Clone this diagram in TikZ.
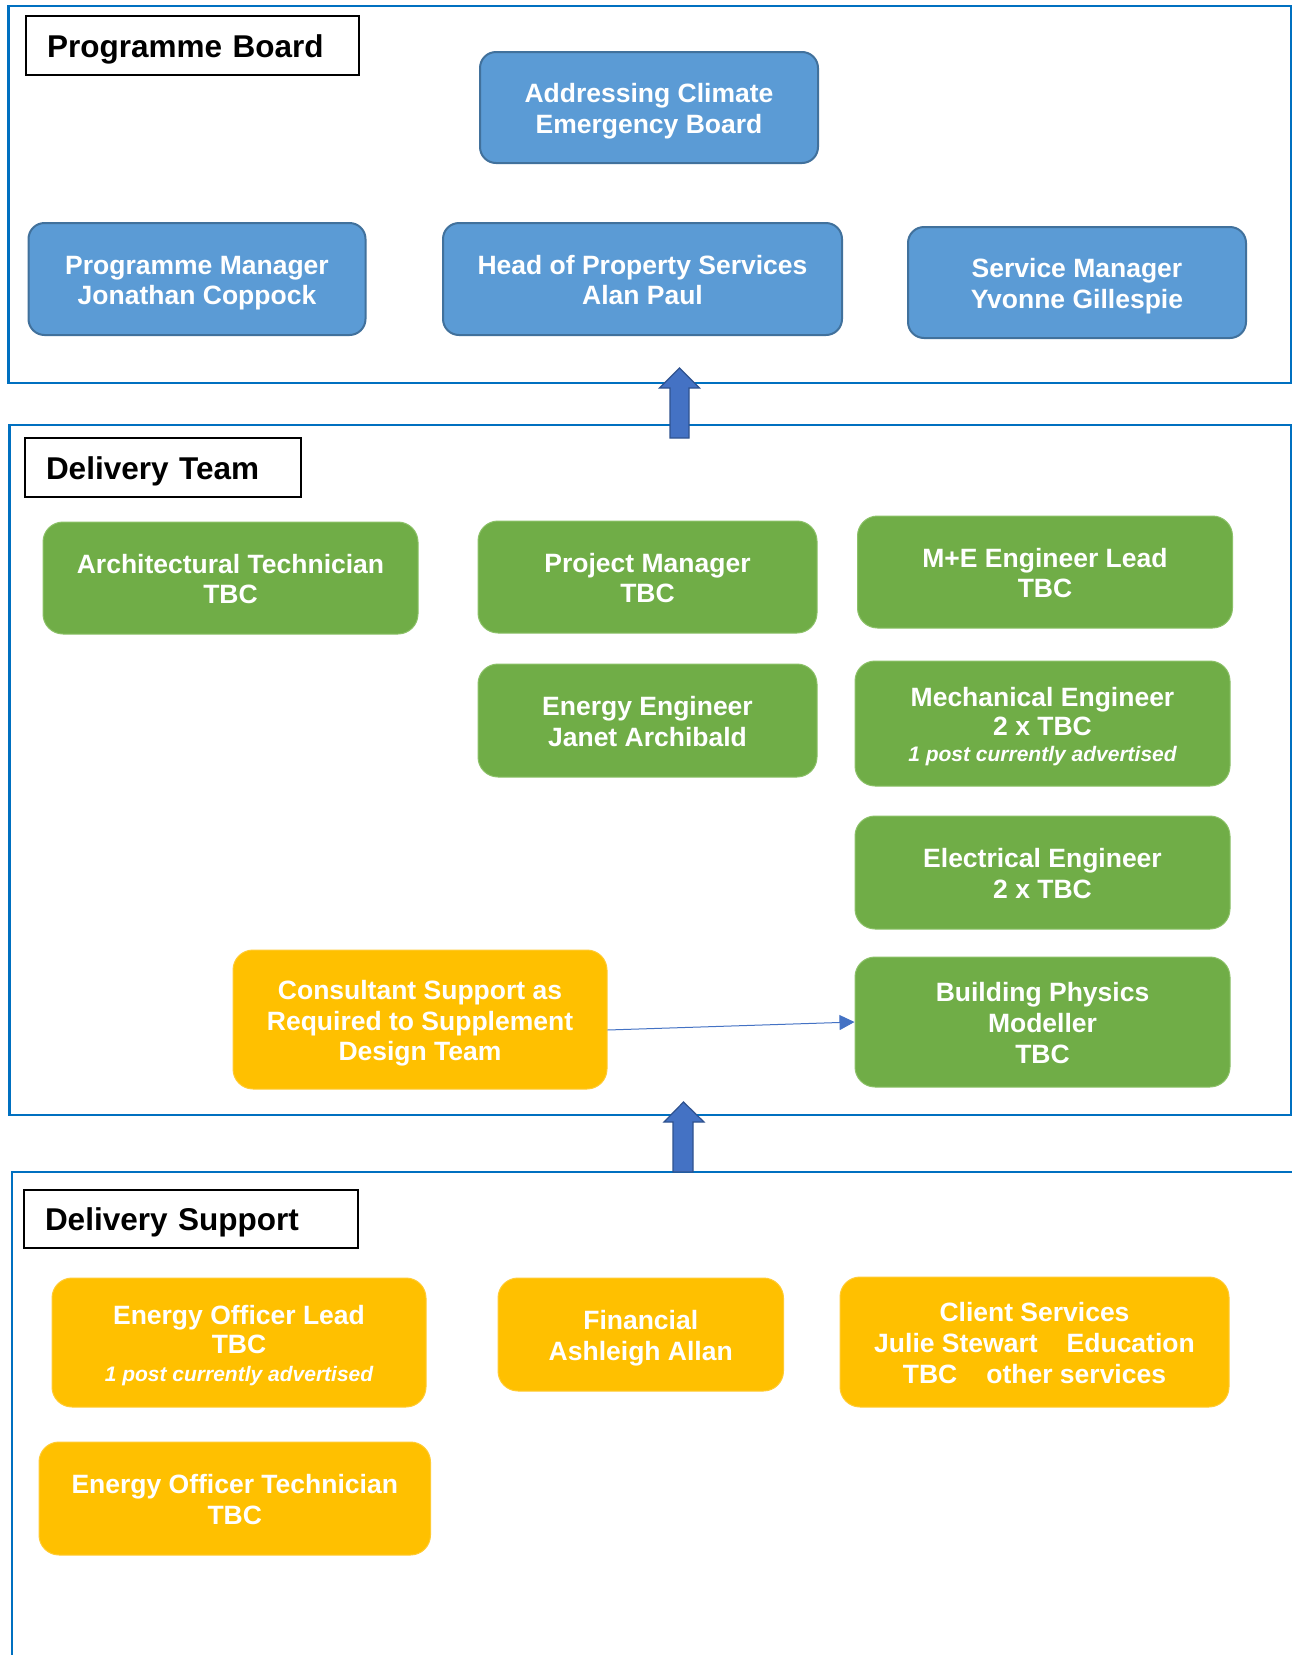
\documentclass[tikz,border=0pt]{standalone}
\usepackage{fontspec}
\setmainfont{Liberation Sans}
\usetikzlibrary{arrows.meta}
\definecolor{frameblue}{HTML}{0070C0}
\definecolor{boxblue}{HTML}{5B9BD5}
\definecolor{boxblueedge}{HTML}{41719C}
\definecolor{boxgreen}{HTML}{70AD47}
\definecolor{boxgreenedge}{HTML}{8CC168}
\definecolor{boxyellow}{HTML}{FFC000}
\definecolor{boxyellowedge}{HTML}{FFCB33}
\definecolor{arrowblue}{HTML}{4472C4}
\definecolor{arrowedge}{HTML}{2F528F}
\newcommand\postnotefont{\fontsize{21}{24}\selectfont\bfseries\itshape}
\newcommand\tstrut{\rule{0pt}{28pt}}
\begin{document}
\begin{tikzpicture}[x=1pt,y=-1pt,
  box/.style={rounded corners=20pt, align=center, text=white, inner sep=0pt,
    font=\fontsize{26.5}{30.7}\selectfont\bfseries,
    execute at end node={\rule[-7pt]{0pt}{0pt}}},
  bluebox/.style={box, fill=boxblue, draw=boxblueedge, line width=2pt, rounded corners=16pt},
  greenbox/.style={box, fill=boxgreen, draw=boxgreenedge, line width=1pt},
  yellowbox/.style={box, fill=boxyellow, draw=boxyellowedge, line width=1pt},
  seclabel/.style={draw=black, line width=1.5pt, fill=white, align=left, inner xsep=21pt, inner ysep=0pt,
    font=\fontsize{31.5}{36}\selectfont\bfseries,
    execute at begin node={\rule{0pt}{31pt}},
    execute at end node={\rule[-8pt]{0pt}{0pt}}},
  frame/.style={draw=frameblue, line width=2.2pt},
  blockarrow/.style={fill=arrowblue, draw=arrowedge, line width=1.2pt},
  conn/.style={draw=arrowblue, line width=1pt, -{Triangle[length=15pt,width=15pt]}}
]
\useasboundingbox (0,0) rectangle (1292,1655);
\fill[white] (0,0) rectangle (1292,1655);

% frames
\draw[frame] (8.5,6) rectangle (1291,383);
\draw[frame] (9.5,425) rectangle (1291,1115);
\draw[frame] (12,1655) -- (12,1172) -- (1292,1172);

% section labels
\node[seclabel, minimum height=59pt, text width=291pt] (pbl) at (192.5,45.5) {Programme Board};
\node[seclabel, minimum height=59pt, text width=234pt] (dtl) at (163,467.5) {Delivery Team};
\node[seclabel, minimum height=58pt, text width=292pt] (dsl) at (191,1219) {Delivery Support};

% Programme Board
\node[bluebox, minimum width=338pt, minimum height=111pt] (acb) at (649,107.5) {\tstrut Addressing Climate\\Emergency Board};
\node[bluebox, minimum width=337pt, minimum height=112pt] (pm) at (197,279) {\tstrut Programme Manager\\Jonathan Coppock};
\node[bluebox, minimum width=399pt, minimum height=112pt] (hps) at (642.5,279) {\tstrut Head of Property Services\\Alan Paul};
\node[bluebox, minimum width=338pt, minimum height=111pt] (sm) at (1077,282.5) {\tstrut Service Manager\\Yvonne Gillespie};

% Delivery Team
\node[greenbox, minimum width=375pt, minimum height=112pt] (arch) at (230.5,578) {\tstrut Architectural Technician\\TBC};
\node[greenbox, minimum width=339pt, minimum height=112pt] (projm) at (647.5,577) {\tstrut Project Manager\\TBC};
\node[greenbox, minimum width=339pt, minimum height=113pt] (enen) at (647.5,720.5) {\tstrut Energy Engineer\\Janet Archibald};
\node[greenbox, minimum width=375pt, minimum height=112pt] (me) at (1045,572) {\tstrut M+E Engineer Lead\\TBC};
\node[greenbox, minimum width=375pt, minimum height=125pt] (mech) at (1042.5,723.5) {\tstrut Mechanical Engineer\\[-1.7pt]2 x TBC\\[-4pt]{\postnotefont 1 post currently advertised}};
\node[greenbox, minimum width=375pt, minimum height=113pt] (elec) at (1042.5,872.5) {\tstrut Electrical Engineer\\2 x TBC};
\node[greenbox, minimum width=375pt, minimum height=130pt] (bpm) at (1042.5,1022) {\tstrut Building Physics\\Modeller\\TBC};
\node[yellowbox, minimum width=374pt, minimum height=139pt] (cons) at (420,1019.5) {\tstrut Consultant Support as\\Required to Supplement\\Design Team};

% Delivery Support
\node[yellowbox, minimum width=374pt, minimum height=129pt] (eol) at (239,1342.5) {\tstrut Energy Officer Lead\\[-1.7pt]TBC\\[-3pt]{\postnotefont 1 post currently advertised}};
\node[yellowbox, minimum width=285.5pt, minimum height=113pt] (fin) at (640.75,1334.5) {\tstrut Financial\\Ashleigh Allan};
\node[yellowbox, minimum width=389pt, minimum height=130pt] (cli) at (1034.5,1342) {\tstrut Client Services\\Julie Stewart\hspace{29pt}Education\\TBC\hspace{29pt}other services};
\node[yellowbox, minimum width=391.5pt, minimum height=113pt] (eot) at (234.75,1498.5) {\tstrut Energy Officer Technician\\TBC};

% connector
\draw[conn] ([yshift=-10.5pt]cons.east) -- (bpm.west);

% block arrows between sections
\draw[blockarrow] (670,438) -- (670,388) -- (659.5,388) -- (679.5,368) -- (699.5,388) -- (689,388) -- (689,438) -- cycle;
\draw[blockarrow] (673,1172) -- (673,1122) -- (664,1122) -- (683.5,1102) -- (704,1122) -- (693,1122) -- (693,1172) -- cycle;
\end{tikzpicture}
\end{document}
